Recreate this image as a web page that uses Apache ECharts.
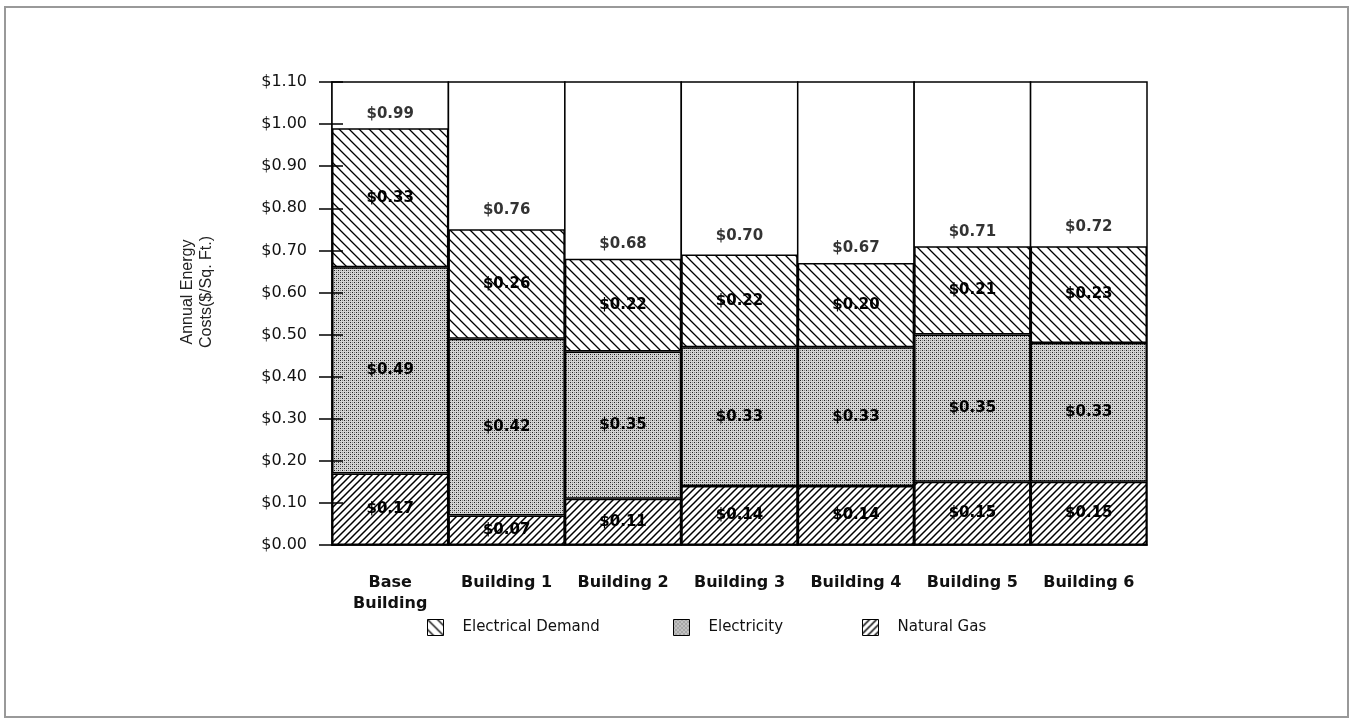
<!DOCTYPE html>
<html>
<head>
<meta charset="utf-8">
<script src="https://cdn.jsdelivr.net/npm/echarts@6/dist/echarts.min.js"></script>
<style>
  html, body { margin: 0; padding: 0; background: #fff; }
  #chart { width: 1354px; height: 722px; }
</style>
</head>
<body>
<div id="chart"></div>
<script>
const categories = ['Base\nBuilding', 'Building 1', 'Building 2', 'Building 3', 'Building 4', 'Building 5', 'Building 6']
const naturalGas = [0.17, 0.07, 0.11, 0.14, 0.14, 0.15, 0.15]
const electricity = [0.49, 0.42, 0.35, 0.33, 0.33, 0.35, 0.33]
const electricalDemand = [0.33, 0.26, 0.22, 0.22, 0.20, 0.21, 0.23]
const totals = [0.99, 0.76, 0.68, 0.70, 0.67, 0.71, 0.72]

const FONT = 'DejaVu Sans'

// hatch tiles: 'back' = \\\ , 'fwd' = ///
function hatch(size, dir, lw) {
  const c = document.createElement('canvas')
  c.width = c.height = size
  const g = c.getContext('2d')
  g.fillStyle = '#fff'
  g.fillRect(0, 0, size, size)
  g.strokeStyle = '#000'
  g.lineWidth = lw
  g.beginPath()
  if (dir === 'back') {
    g.moveTo(-1, -1); g.lineTo(size + 1, size + 1)
    g.moveTo(size - 1, -1); g.lineTo(size + 1, 1)
    g.moveTo(-1, size - 1); g.lineTo(1, size + 1)
  } else {
    g.moveTo(-1, size + 1); g.lineTo(size + 1, -1)
    g.moveTo(-1, 1); g.lineTo(1, -1)
    g.moveTo(size - 1, size + 1); g.lineTo(size + 1, size - 1)
  }
  g.stroke()
  return c
}

function stipple() {
  const c = document.createElement('canvas')
  c.width = c.height = 4
  const g = c.getContext('2d')
  g.fillStyle = '#d4d4d4'
  g.fillRect(0, 0, 4, 4)
  g.fillStyle = '#222'
  g.fillRect(0, 0, 1, 1)
  g.fillRect(2, 2, 1, 1)
  g.fillStyle = '#888'
  g.fillRect(2, 0, 1, 1)
  g.fillRect(0, 2, 1, 1)
  return c
}

const demandFill = { image: hatch(10, 'back', 1.3), repeat: 'repeat' }
const elecFill = { image: stipple(), repeat: 'repeat' }
const gasFill = { image: hatch(7, 'fwd', 1.5), repeat: 'repeat' }

const money = v => '$' + v.toFixed(2)

const segLabel = {
  show: true,
  position: 'inside',
  color: '#000',
  fontFamily: FONT,
  fontWeight: 'bold',
  fontSize: 15,
  formatter: p => money(p.value)
}

const barItem = fill => ({ color: fill, borderColor: '#000', borderWidth: 1.5 })

const chart = echarts.init(document.getElementById('chart'))

const yBase = { type: 'value', min: 0, max: 1.1, interval: 0.1, position: 'left' }

const legendCommon = {
  top: 614,
  icon: 'rect',
  itemWidth: 16,
  itemHeight: 16,
  itemStyle: { borderColor: '#000', borderWidth: 1 },
  textStyle: { fontFamily: FONT, fontSize: 15, color: '#111', padding: [0, 0, 0, 14] },
  selectedMode: false
}

chart.setOption({
  animation: false,
  backgroundColor: '#fff',
  grid: { left: 332, right: 207, top: 82, bottom: 177 },
  legend: [
    Object.assign({ left: 422, data: ['Electrical Demand'] }, legendCommon),
    Object.assign({ left: 668, data: ['Electricity'] }, legendCommon),
    Object.assign({ left: 857, data: ['Natural Gas'] }, legendCommon)
  ],
  graphic: [
    {
      type: 'rect',
      shape: { x: 5, y: 7, width: 1343, height: 710 },
      style: { fill: 'none', stroke: '#999', lineWidth: 2 },
      silent: true
    },
    {
      type: 'text',
      x: 197,
      y: 292,
      rotation: Math.PI / 2,
      style: {
        text: 'Annual Energy\nCosts($/Sq. Ft.)',
        fontFamily: 'Liberation Sans',
        fontSize: 16,
        lineHeight: 19,
        fill: '#222',
        align: 'center',
        verticalAlign: 'middle'
      }
    }
  ],
  xAxis: {
    type: 'category',
    data: categories,
    axisLine: { show: true, lineStyle: { color: '#000', width: 1.5 } },
    axisTick: { show: false },
    axisLabel: {
      margin: 27,
      color: '#111',
      fontFamily: FONT,
      fontWeight: 'bold',
      fontSize: 16,
      lineHeight: 21,
      interval: 0
    }
  },
  yAxis: [
    Object.assign({}, yBase, {
      axisLine: { show: true, lineStyle: { color: '#000', width: 1.5 } },
      axisTick: { show: true, length: 13, lineStyle: { color: '#000', width: 1.5 } },
      splitLine: { show: false },
      axisLabel: {
        margin: 25,
        color: '#111',
        fontFamily: FONT,
        fontSize: 16,
        formatter: v => money(v)
      }
    }),
    Object.assign({}, yBase, {
      zlevel: 1,
      z: 10,
      offset: 0,
      axisLine: { show: false },
      axisTick: { show: true, inside: true, length: 11, lineStyle: { color: '#000', width: 1.5 } },
      axisLabel: { show: false },
      splitLine: { show: false }
    })
  ],
  series: [
    {
      name: 'Natural Gas',
      type: 'bar',
      stack: 'cost',
      barWidth: '100%',
      data: naturalGas,
      itemStyle: barItem(gasFill),
      label: segLabel,
      showBackground: true,
      backgroundStyle: { color: '#fff', borderColor: '#000', borderWidth: 1.5 }
    },
    {
      name: 'Electricity',
      type: 'bar',
      stack: 'cost',
      barWidth: '100%',
      data: electricity,
      itemStyle: barItem(elecFill),
      label: segLabel
    },
    {
      name: 'Electrical Demand',
      type: 'bar',
      stack: 'cost',
      barWidth: '100%',
      data: electricalDemand,
      itemStyle: barItem(demandFill),
      label: segLabel
    },
    {
      name: 'Total',
      type: 'scatter',
      data: totals,
      symbolSize: 0,
      z: 5,
      label: {
        show: true,
        position: 'top',
        distance: 7,
        color: '#000',
        fontFamily: FONT,
        fontWeight: 'bold',
        fontSize: 15,
        formatter: p => money(p.value)
      }
    }
  ]
})
</script>
</body>
</html>
